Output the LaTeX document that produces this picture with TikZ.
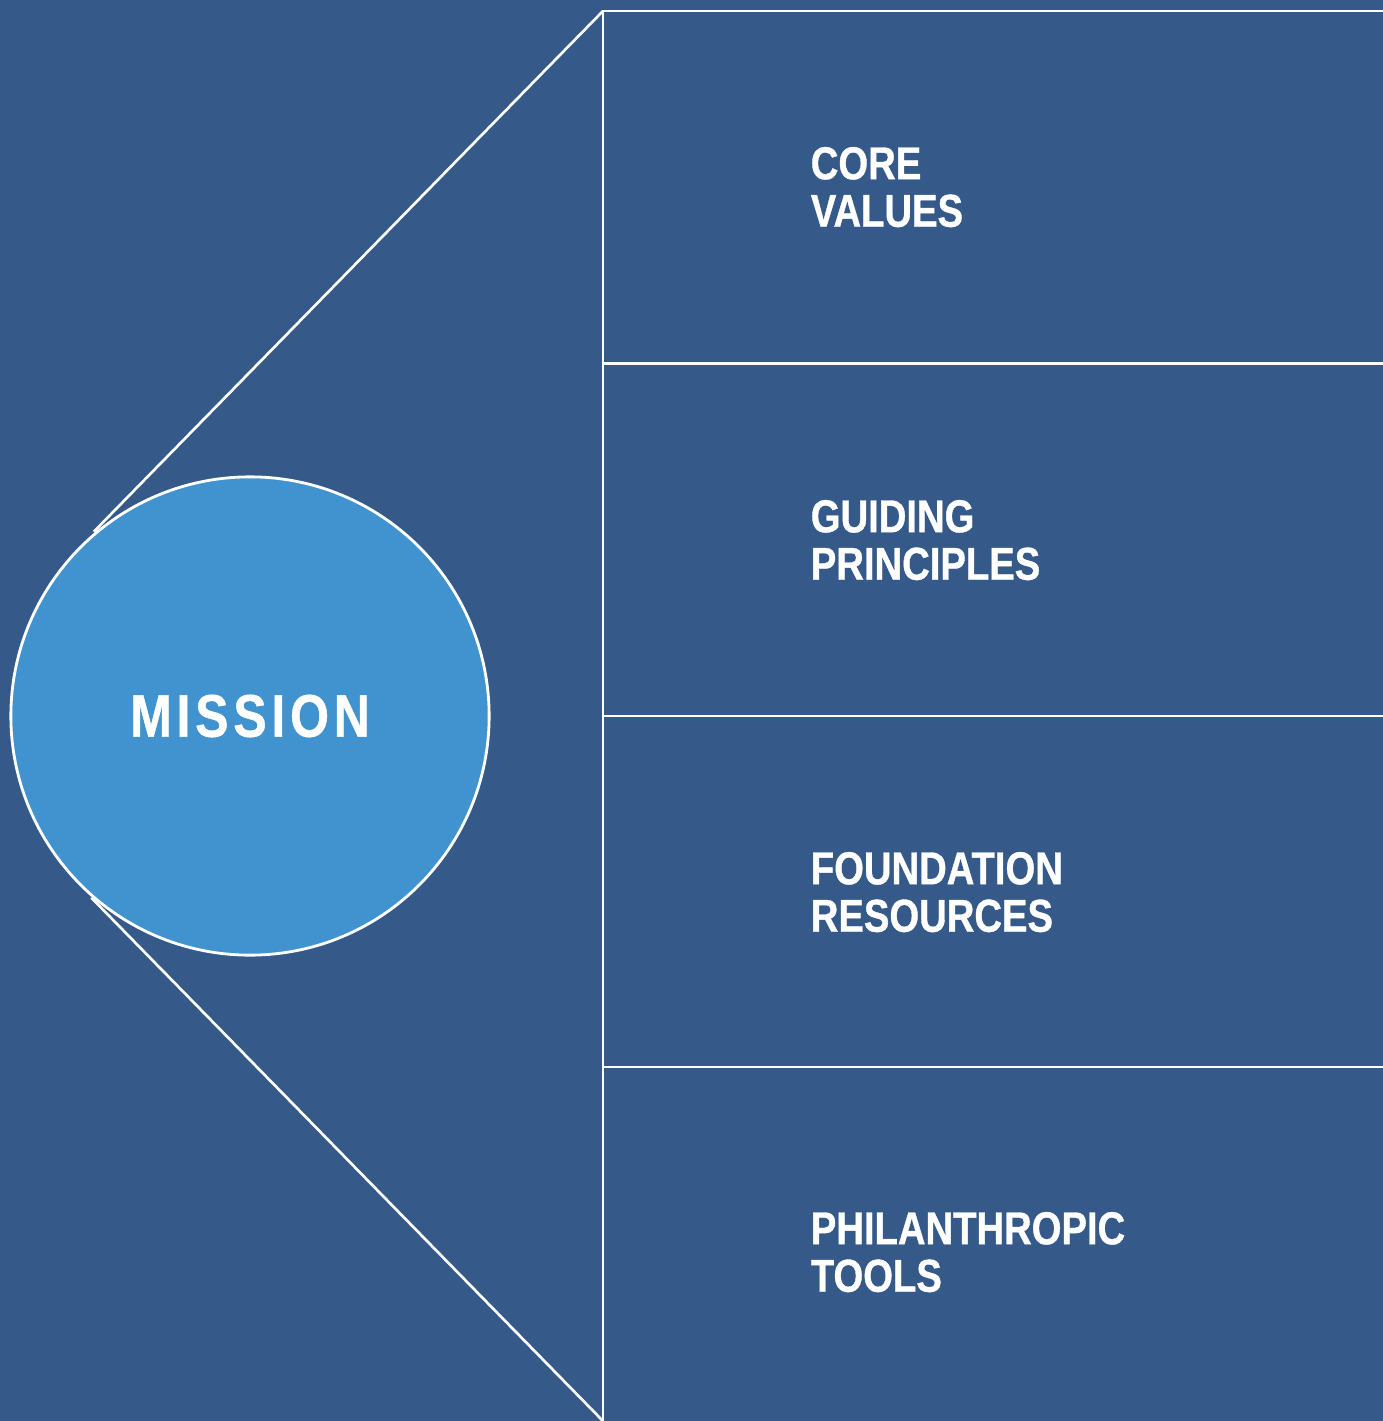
\documentclass[tikz,border=0pt]{standalone}
\usepackage{fontspec}
\setmainfont{Liberation Sans}
\newfontfamily\headfont[FakeStretch=0.83,FakeBold=0.8]{Liberation Sans}
\usetikzlibrary{calc,positioning}

\definecolor{navy}{RGB}{53,89,136}
\definecolor{skyblue}{RGB}{64,147,206}

\tikzset{
  band/.style={draw=white, line width=0.7pt, fill=navy, anchor=north west,
    minimum width=8cm, minimum height=3.52cm, inner sep=0pt, outer sep=0pt},
  bandtext/.style={anchor=west, align=left, text=white, inner sep=0pt,
    font=\headfont\bfseries\fontsize{13.1}{13.5}\selectfont},
  hub/.style={circle, draw=white, line width=0.8pt, fill=skyblue,
    minimum size=4.78cm, inner sep=0pt, text=white,
    font=\headfont\bfseries\fontsize{17.1}{17.1}\selectfont},
  edge/.style={draw=white, line width=0.75pt}
}

\begin{document}
\begin{tikzpicture}[x=0.01cm,y=-0.01cm]
    \useasboundingbox (0,0) rectangle (1383,1421);
    \clip (0,0) rectangle (1383,1421);
    \fill[navy] (0,0) rectangle (1383,1421);

    \node[band] (core) at (603,11) {};
    \node[band] (guiding) at (603,364) {};
    \node[band] (resources) at (603,716) {};
    \node[band, minimum height=3.7cm] (tools) at (603,1067) {};

    \node[bandtext, right=2.07cm of core.west] (coretext) {CORE\\VALUES};
    \node[bandtext, right=2.07cm of guiding.west] (guidingtext) {GUIDING\\PRINCIPLES};
    \node[bandtext, right=2.07cm of resources.west] (resourcestext) {FOUNDATION\\RESOURCES};
    \node[bandtext, right=2.07cm of tools.west] (toolstext) {PHILANTHROPIC\\TOOLS};

    \node[hub] (mission) at (250,716) {\addfontfeatures{LetterSpace=8}MISSION};

    % the two rays stop where they run into the circle's rim
    \coordinate (uppertouch) at (tangent cs:node=mission,point={(core.north west)},solution=1);
    \coordinate (lowertouch) at (tangent cs:node=mission,point={(tools.south west)},solution=2);
    \coordinate (bottomcorner) at (603,1421);
    \draw[edge] ($(core.north west)!0.97!(uppertouch)$) -- (core.north west);
    \draw[edge] ($(bottomcorner)!0.97!(lowertouch)$) -- (bottomcorner);
\end{tikzpicture}
\end{document}
